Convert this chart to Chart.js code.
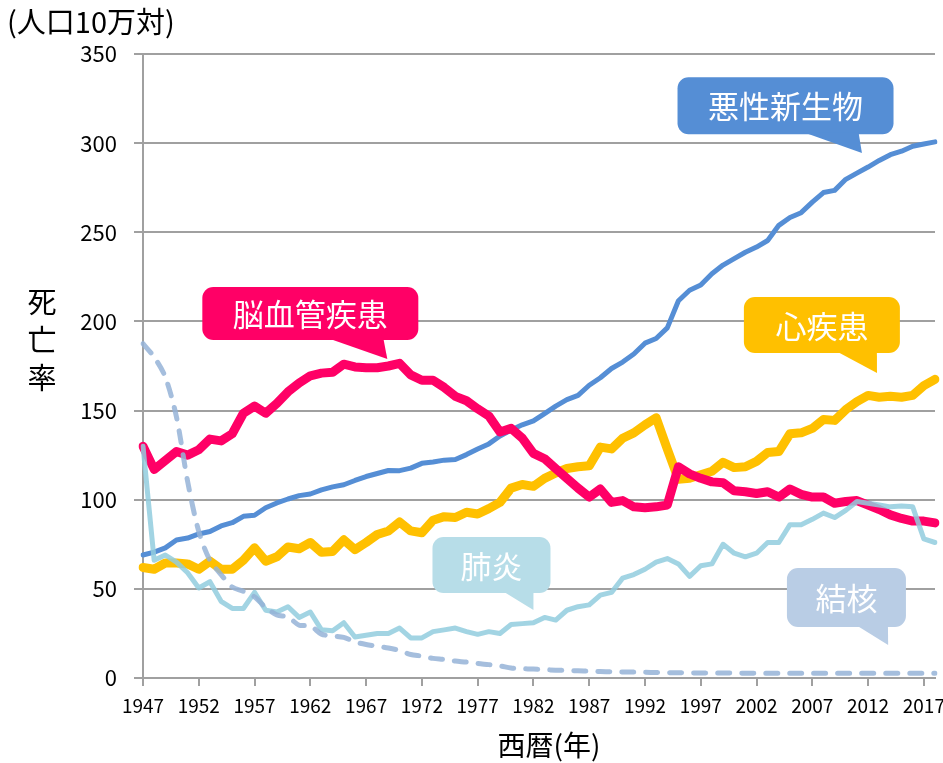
<!DOCTYPE html>
<html>
<head>
<meta charset="utf-8">
<script src="https://cdn.jsdelivr.net/npm/chart.js@4"></script>
<style>
  body { margin: 0; background: #fff; }
  #wrap { width: 943px; height: 763px; }
</style>
</head>
<body>
<div id="wrap"><canvas id="lineChart" width="943" height="763"></canvas></div>
<script>
// years on the x axis
const years = [1947, 1948, 1949, 1950, 1951, 1952, 1953, 1954, 1955, 1956,
  1957, 1958, 1959, 1960, 1961, 1962, 1963, 1964, 1965, 1966,
  1967, 1968, 1969, 1970, 1971, 1972, 1973, 1974, 1975, 1976,
  1977, 1978, 1979, 1980, 1981, 1982, 1983, 1984, 1985, 1986,
  1987, 1988, 1989, 1990, 1991, 1992, 1993, 1994, 1995, 1996,
  1997, 1998, 1999, 2000, 2001, 2002, 2003, 2004, 2005, 2006,
  2007, 2008, 2009, 2010, 2011, 2012, 2013, 2014, 2015, 2016,
  2017, 2018];

// death rate per 100k
const cancer = [69.0, 70.6, 73.0, 77.4, 78.5, 80.8, 82.2, 85.3, 87.1,
  90.7, 91.3, 95.5, 98.2, 100.4,
  102.3, 103.2, 105.5, 107.2, 108.4,
  110.8, 113.0, 114.7, 116.4, 116.3,
  117.7, 120.4, 121.2, 122.2, 122.6,
  125.3, 128.4, 131.3, 135.7, 139.1,
  142.0, 144.2, 148.3, 152.5, 156.1,
  158.5, 164.2, 168.4, 173.6, 177.2,
  181.7, 187.8, 190.4, 196.4, 211.6,
  217.5, 220.4, 226.7, 231.6, 235.2,
  238.8, 241.7, 245.4, 253.9, 258.3,
  261.0, 266.9, 272.3, 273.5, 279.7,
  283.2, 286.6, 290.3, 293.5, 295.5,
  298.3, 299.5, 300.7];

const stroke = [130, 117, 122, 127, 125, 128, 134, 133, 137,
  148.5, 152.5, 148.5, 154, 160.5,
  165.5, 169.5, 171, 171.5, 176,
  174.5, 174, 174, 175, 176.5,
  170, 167, 167, 163, 158,
  155.5, 151, 147, 138, 140,
  134.5, 126, 123, 117.5, 112,
  106.5, 101.5, 106, 98.5, 99.5,
  96, 95.5, 96, 97, 118.5,
  114.5, 112, 110, 109.5, 105,
  104.5, 103.5, 104.5, 101.5, 106,
  103, 101.5, 101.5, 98, 99,
  99.5, 97, 94.5, 91.5, 89.5,
  88, 88, 87];

const heart = [62, 61, 64.5, 64.5, 64, 61, 65.5, 61, 61,
  66, 73, 65.5, 68, 73.5,
  72.5, 76, 70.5, 71, 77.5,
  72, 76, 80.5, 82.5, 87.5,
  82.5, 81.5, 88.5, 90.5, 90,
  93, 92, 95, 98.5, 106.5,
  108.5, 107.5, 112, 115, 117.5,
  118.5, 119, 129.5, 128.5, 134.5,
  137.5, 142, 146, 128.5, 111.5,
  112, 114, 116, 121, 118,
  118.5, 121.5, 126.5, 127, 137,
  137.5, 140, 145, 144.5, 150.5,
  155, 158.5, 157.5, 158, 157.5,
  158.5, 164, 167.5];

const pneumonia = [130, 66, 69, 65, 59, 50.5, 54, 43, 39,
  39, 48, 38, 37, 40,
  34, 37, 27, 26.5, 31,
  23, 24, 25, 25, 28,
  22.5, 22.5, 26, 27, 28,
  26, 24.5, 26, 25, 30,
  30.5, 31, 34, 32.5, 38,
  40, 41, 46.5, 48, 56,
  58, 61, 65, 67, 64,
  57, 63, 64, 75, 70,
  68, 70, 76, 76, 86,
  86, 89, 92.5, 90, 94,
  99, 98, 97, 96, 96.5,
  96, 78, 76];

const tuberculosis = [187.5, 180, 168.8, 146.4, 110.3, 82.2, 66, 58, 51,
  48.6, 45.5, 39.5, 35.4, 34.2,
  29.6, 29.3, 24.6, 23.6, 22.8,
  20.3, 18.8, 17.8, 16.8, 15.4,
  13.2, 12.3, 11.0, 10.4, 9.5,
  8.9, 8.1, 7.5, 6.8, 5.6,
  5.2, 5.0, 4.7, 4.4, 4.2,
  4.0, 3.8, 3.6, 3.5, 3.4,
  3.3, 3.2, 3.1, 3.0, 3.0,
  2.9, 2.8, 2.8, 2.8, 2.8,
  2.7, 2.7, 2.7, 2.7, 2.7,
  2.7, 2.7, 2.7, 2.7, 2.7,
  2.7, 2.7, 2.7, 2.7, 2.7,
  2.7, 2.7, 2.7];

const yTicks = [0, 50, 100, 150, 200, 250, 300, 350];

// speech bubbles: centre and tip in data units (x = year index)
const callouts = [
  { text: '悪性新生物', color: '#558ED5', cx: 57.6, cy: 321, w: 216, h: 57, tipX: 64.45, tipY: 294.5, base: [18, 73] },
  { text: '脳血管疾患', color: '#FF0066', cx: 15.0, cy: 204.4, w: 216, h: 53, tipX: 21.9, tipY: 178.9, base: [17, 73] },
  { text: '心疾患', color: '#FFC000', cx: 60.86, cy: 198, w: 156, h: 56, tipX: 65.8, tipY: 171.1, base: [14, 55] },
  { text: '肺炎', color: '#B7DDE8', cx: 31.24, cy: 63.4, w: 118, h: 56, tipX: 35.0, tipY: 38.1, base: [11, 42] },
  { text: '結核', color: '#B9CDE5', cx: 63.06, cy: 45.2, w: 119, h: 59, tipX: 66.8, tipY: 18.5, base: [9.5, 41.5] }
];

const FONT = "'Noto Sans CJK JP', 'Noto Sans', sans-serif";
const GRID = '#A0A0A0';

const decorPlugin = {
  id: 'decor',
  afterDraw(chart) {
    const ctx = chart.ctx;
    const xs = chart.scales.x, ys = chart.scales.y;
    ctx.save();
    // axis titles
    ctx.fillStyle = '#000';
    ctx.font = '29px ' + FONT;
    ctx.textAlign = 'left';
    ctx.textBaseline = 'middle';
    ctx.fillText('(人口10万対)', 7, 22);
    ctx.textAlign = 'center';
    ['死', '亡', '率'].forEach((ch, i) => ctx.fillText(ch, 42, 302 + i * 38));
    ctx.font = '28px ' + FONT;
    ctx.fillText('西暦(年)', 549, 745);

    // bubbles
    callouts.forEach(c => {
      const cx = xs.getPixelForValue(c.cx), cy = ys.getPixelForValue(c.cy);
      const tx = xs.getPixelForValue(c.tipX), ty = ys.getPixelForValue(c.tipY);
      const l = cx - c.w / 2, t = cy - c.h / 2, b = cy + c.h / 2;
      ctx.fillStyle = c.color;
      ctx.beginPath();
      ctx.roundRect(l, t, c.w, c.h, 11);
      ctx.fill();
      ctx.beginPath();
      ctx.moveTo(cx + c.base[0], b - 2);
      ctx.lineTo(tx, ty);
      ctx.lineTo(cx + c.base[1], b - 2);
      ctx.closePath();
      ctx.fill();
      ctx.fillStyle = '#fff';
      ctx.font = '31px ' + FONT;
      ctx.textAlign = 'center';
      ctx.textBaseline = 'middle';
      ctx.fillText(c.text, cx, cy + 1);
    });
    ctx.restore();
  }
};

const line = (label, data, color, width, order, extra) => Object.assign({
  label: label,
  data: data,
  borderColor: color,
  borderWidth: width,
  pointRadius: 0,
  tension: 0,
  fill: false,
  borderJoinStyle: 'round',
  borderCapStyle: 'round',
  order: order
}, extra || {});

const ctx = document.getElementById('lineChart').getContext('2d');
const lineChart = new Chart(ctx, {
  type: 'line',
  data: {
    labels: years,
    datasets: [
      line('悪性新生物', cancer, '#558ED5', 5, 4),
      line('心疾患', heart, '#FFC000', 9, 3),
      line('脳血管疾患', stroke, '#FF0066', 9, 2),
      line('肺炎', pneumonia, 'rgba(146,205,222,0.85)', 5, 1),
      line('結核', tuberculosis, 'rgba(149,179,215,0.85)', 5, 0, { borderDash: [12, 12], tension: 0.3 })
    ]
  },
  options: {
    responsive: false,
    animation: false,
    layout: { padding: { left: 0, right: 8, top: 54, bottom: 0 } },
    plugins: {
      legend: { display: false },
      tooltip: { enabled: false }
    },
    scales: {
      x: {
        afterFit(scale) {
          scale.height = 85;
          scale.paddingLeft = 0;
          scale.paddingRight = 0;
        },
        grid: { display: true, drawOnChartArea: false, drawTicks: true, tickLength: 8, color: GRID, lineWidth: 2 },
        border: { display: true, color: GRID, width: 2 },
        ticks: {
          autoSkip: false,
          maxRotation: 0,
          minRotation: 0,
          padding: 8,
          color: '#000',
          font: { family: FONT, size: 19 },
          callback(val, i) { return i % 5 === 0 ? years[i] : null; }
        }
      },
      y: {
        min: 0,
        max: 350,
        afterFit(scale) { scale.width = 143; },
        afterBuildTicks(scale) { scale.ticks = yTicks.map(v => ({ value: v })); },
        grid: { color: GRID, lineWidth: 2, tickLength: 9 },
        border: { display: true, color: GRID, width: 2 },
        ticks: {
          padding: 17,
          color: '#000',
          font: { family: FONT, size: 22 }
        }
      }
    }
  },
  plugins: [decorPlugin]
});
</script>
</body>
</html>
